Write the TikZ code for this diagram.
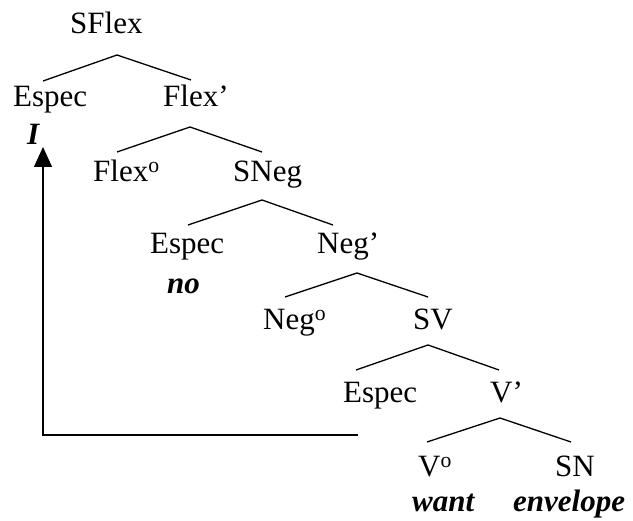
\documentclass[tikz,border=0pt]{standalone}
\usepackage{fontspec}
\setmainfont{Liberation Serif}
\usetikzlibrary{arrows.meta}
\tikzset{
  lab/.style={anchor=base west, inner sep=0pt, font=\fontsize{31}{37}\selectfont},
  word/.style={lab, font=\fontsize{31}{37}\selectfont\bfseries\itshape},
  branch/.style={line width=1.3pt, line join=miter},
  mover/.style={line width=1.3pt, -{Triangle[width=18pt,length=20pt]}}
}
\begin{document}
\begin{tikzpicture}[x=1pt,y=-1pt]
\useasboundingbox (0,0) rectangle (633,521);
% labels
\node[lab] (SFlex) at (70,34) {SFlex};
\node[lab] (Espec1) at (13,107) {Espec};
\node[lab] (Flex1) at (163,107) {Flex’};
\node[word] (I) at (27,145) {I};
\node[lab] (Flex0) at (93,182) {Flex\textsuperscript{o}};
\node[lab] (SNeg) at (233,182) {SNeg};
\node[lab] (Espec2) at (150,254) {Espec};
\node[word] (no) at (167,294) {no};
\node[lab] (Neg1) at (317,254) {Neg’};
\node[lab] (Neg0) at (263,330) {Neg\textsuperscript{o}};
\node[lab] (SV) at (413,330) {SV};
\node[lab] (Espec3) at (343,403) {Espec};
\node[lab] (V1) at (490,403) {V’};
\node[lab] (V0) at (418,477) {V\textsuperscript{o}};
\node[lab] (SN) at (555,477) {SN};
\node[word] (want) at (412,512) {want};
\node[word] (envelope) at (513,512) {envelope};
% branch points
\coordinate (SFlex-ap) at (117,55);
\coordinate (Espec1-tp) at (43,81);
\coordinate (Flex1-tp) at (191,80);
\coordinate (Flex1-ap) at (190,127);
\coordinate (Flex0-tp) at (117,152);
\coordinate (SNeg-tp) at (262,152);
\coordinate (SNeg-ap) at (262,200);
\coordinate (Espec2-tp) at (188,225);
\coordinate (Neg1-tp) at (333,225);
\coordinate (Neg1-ap) at (357,273);
\coordinate (Neg0-tp) at (285,297);
\coordinate (SV-tp) at (428,297);
\coordinate (SV-ap) at (428,345);
\coordinate (Espec3-tp) at (356,370);
\coordinate (V1-tp) at (499,370);
\coordinate (V1-ap) at (500,418);
\coordinate (V0-tp) at (427,442);
\coordinate (SN-tp) at (571,442);
\draw[branch] (Espec1-tp) -- (SFlex-ap) -- (Flex1-tp);
\draw[branch] (Flex0-tp) -- (Flex1-ap) -- (SNeg-tp);
\draw[branch] (Espec2-tp) -- (SNeg-ap) -- (Neg1-tp);
\draw[branch] (Neg0-tp) -- (Neg1-ap) -- (SV-tp);
\draw[branch] (Espec3-tp) -- (SV-ap) -- (V1-tp);
\draw[branch] (V0-tp) -- (V1-ap) -- (SN-tp);
% movement arrow
\coordinate (trace) at (358,435);
\coordinate (landing) at (43,147);
\draw[mover] (trace) -| (landing);
\end{tikzpicture}
\end{document}
